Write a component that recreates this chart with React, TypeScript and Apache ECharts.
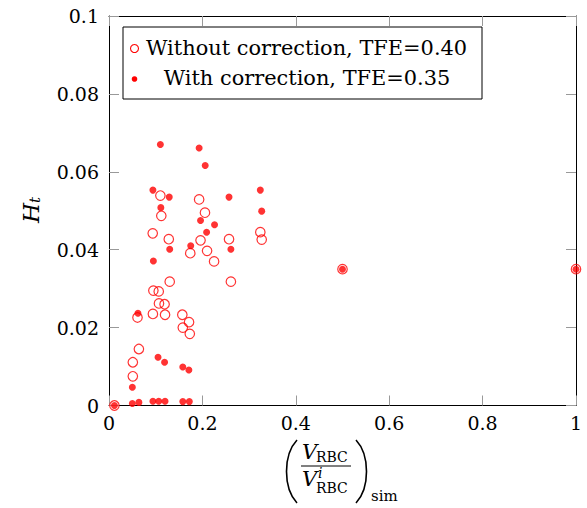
import React, { useEffect, useRef } from "react";
import * as echarts from "echarts";

// [V_RBC / V^i_RBC]_sim , H_t
const withoutCorrection: number[][] = [
  [0.0116, 0.0],
  [0.051, 0.0075],
  [0.051, 0.0111],
  [0.061, 0.0226],
  [0.064, 0.0145],
  [0.094, 0.0235],
  [0.0936, 0.0442],
  [0.095, 0.0295],
  [0.1065, 0.0293],
  [0.107, 0.0262],
  [0.11, 0.0539],
  [0.112, 0.0487],
  [0.119, 0.026],
  [0.12, 0.0233],
  [0.128, 0.0427],
  [0.13, 0.0318],
  [0.157, 0.0233],
  [0.158, 0.02],
  [0.1714, 0.0214],
  [0.173, 0.0184],
  [0.174, 0.0391],
  [0.193, 0.0529],
  [0.196, 0.0424],
  [0.2055, 0.0495],
  [0.21, 0.0397],
  [0.225, 0.037],
  [0.257, 0.0427],
  [0.261, 0.0318],
  [0.324, 0.0445],
  [0.327, 0.0426],
  [0.5, 0.035],
  [1.0, 0.035],
];

const withCorrection: number[][] = [
  [0.0116, 0.0],
  [0.05, 0.0005],
  [0.05, 0.0047],
  [0.062, 0.0237],
  [0.064, 0.0008],
  [0.094, 0.0011],
  [0.094, 0.0553],
  [0.095, 0.0371],
  [0.105, 0.0124],
  [0.1065, 0.0011],
  [0.11, 0.067],
  [0.111, 0.0508],
  [0.119, 0.0111],
  [0.12, 0.0011],
  [0.129, 0.0535],
  [0.13, 0.0401],
  [0.158, 0.0099],
  [0.158, 0.001],
  [0.171, 0.0091],
  [0.172, 0.001],
  [0.175, 0.041],
  [0.193, 0.0661],
  [0.196, 0.0475],
  [0.206, 0.0616],
  [0.209, 0.0445],
  [0.226, 0.0464],
  [0.257, 0.0535],
  [0.261, 0.0401],
  [0.324, 0.0553],
  [0.327, 0.0499],
  [0.5, 0.035],
  [1.0, 0.035],
];

const seriesNames = ["Without correction, TFE=0.40", "With correction, TFE=0.35"];
const xRange = { min: 0, max: 1, interval: 0.2 };
const yRange = { min: 0, max: 0.1, interval: 0.02 };

const FONT = "'DejaVu Serif', 'Liberation Serif', serif";
const RED = "#ff0000";

export default function App() {
  const ref = useRef<HTMLDivElement>(null);

  useEffect(() => {
    document.body.style.margin = "0";
    if (!ref.current) return;
    const chart = echarts.init(ref.current, undefined, { renderer: "svg" });

    const axisLine = { show: true, onZero: false, lineStyle: { color: "#000", width: 1 } };
    const axisTick = { show: true, inside: true, length: 10, lineStyle: { color: "#999", width: 1 } };
    const label = { fontFamily: FONT, fontSize: 19, color: "#000" };

    chart.setOption({
      animation: false,
      backgroundColor: "#fff",
      grid: { left: 109, right: 11, top: 16, bottom: 102.5, containLabel: false },
      xAxis: [
        {
          type: "value",
          position: "bottom",
          ...xRange,
          axisLine,
          axisTick,
          splitLine: { show: false },
          axisLabel: { ...label, margin: 8, showMinLabel: true, showMaxLabel: true },
        },
        {
          type: "value",
          position: "top",
          ...xRange,
          axisLine,
          axisTick,
          splitLine: { show: false },
          axisLabel: { show: false },
        },
      ],
      yAxis: [
        {
          type: "value",
          position: "left",
          ...yRange,
          axisLine,
          axisTick,
          splitLine: { show: false },
          axisLabel: { ...label, margin: 10, showMinLabel: true, showMaxLabel: true },
        },
        {
          type: "value",
          position: "right",
          ...yRange,
          axisLine,
          axisTick,
          splitLine: { show: false },
          axisLabel: { show: false },
        },
      ],
      series: [
        {
          name: seriesNames[0],
          type: "scatter",
          data: withoutCorrection,
          symbol: "circle",
          symbolSize: 9.5,
          clip: false,
          itemStyle: { color: "rgba(255,255,255,0)", borderColor: RED, borderWidth: 1.2 },
        },
        {
          name: seriesNames[1],
          type: "scatter",
          data: withCorrection,
          symbol: "circle",
          symbolSize: 7,
          clip: false,
          itemStyle: { color: RED },
        },
      ],
      graphic: [
        // legend
        {
          type: "rect",
          shape: { x: 123, y: 27, width: 359, height: 72 },
          style: { fill: "#fff", stroke: "#000", lineWidth: 1 },
          z: 10,
        },
        {
          type: "circle",
          shape: { cx: 134.5, cy: 48.5, r: 4 },
          style: { fill: "#fff", stroke: RED, lineWidth: 1.1 },
          z: 11,
        },
        {
          type: "text",
          x: 146,
          y: 48,
          style: {
            text: seriesNames[0],
            font: `20.9px ${FONT}`,
            fill: "#000",
            align: "left",
            verticalAlign: "middle",
          },
          z: 11,
        },
        {
          type: "circle",
          shape: { cx: 134.5, cy: 79, r: 2.8 },
          style: { fill: RED },
          z: 11,
        },
        {
          type: "text",
          x: 307,
          y: 78,
          style: {
            text: seriesNames[1],
            font: `20.9px ${FONT}`,
            fill: "#000",
            align: "center",
            verticalAlign: "middle",
          },
          z: 11,
        },
        // y-axis title H_t
        {
          type: "text",
          x: 31,
          y: 210,
          rotation: Math.PI / 2,
          style: {
            text: "{h|H}{t|t}",
            align: "center",
            verticalAlign: "middle",
            fill: "#000",
            rich: {
              h: { fontFamily: FONT, fontStyle: "italic", fontSize: 23, fill: "#000", verticalAlign: "bottom" },
              t: { fontFamily: FONT, fontStyle: "italic", fontSize: 15, fill: "#000", verticalAlign: "top", padding: [8, 0, 0, 0] },
            },
          },
        },
        // x-axis title ( V_RBC / V^i_RBC )_sim
        {
          type: "bezierCurve",
          shape: { x1: 297, y1: 440, cpx1: 283, cpy1: 455, cpx2: 283, cpy2: 488, x2: 297, y2: 503 },
          style: { stroke: "#000", lineWidth: 1.6, fill: "none" },
        },
        {
          type: "bezierCurve",
          shape: { x1: 356, y1: 440, cpx1: 370, cpy1: 455, cpx2: 370, cpy2: 488, x2: 356, y2: 503 },
          style: { stroke: "#000", lineWidth: 1.6, fill: "none" },
        },
        {
          type: "text",
          x: 302,
          y: 452,
          style: { text: "V", font: `italic 21px ${FONT}`, fill: "#000", align: "left", verticalAlign: "middle" },
        },
        {
          type: "text",
          x: 316,
          y: 457,
          style: { text: "RBC", font: `14px ${FONT}`, fill: "#000", align: "left", verticalAlign: "middle" },
        },
        {
          type: "line",
          shape: { x1: 301, y1: 466, x2: 351, y2: 466 },
          style: { stroke: "#000", lineWidth: 1 },
        },
        {
          type: "text",
          x: 302,
          y: 479,
          style: { text: "V", font: `italic 21px ${FONT}`, fill: "#000", align: "left", verticalAlign: "middle" },
        },
        {
          type: "text",
          x: 318,
          y: 473,
          style: { text: "i", font: `italic 14px ${FONT}`, fill: "#000", align: "left", verticalAlign: "middle" },
        },
        {
          type: "text",
          x: 316,
          y: 488,
          style: { text: "RBC", font: `14px ${FONT}`, fill: "#000", align: "left", verticalAlign: "middle" },
        },
        {
          type: "text",
          x: 371,
          y: 496,
          style: { text: "sim", font: `15px ${FONT}`, fill: "#000", align: "left", verticalAlign: "middle" },
        },
      ],
    });

    return () => chart.dispose();
  }, []);

  return <div ref={ref} style={{ width: 587, height: 508 }} />;
}
